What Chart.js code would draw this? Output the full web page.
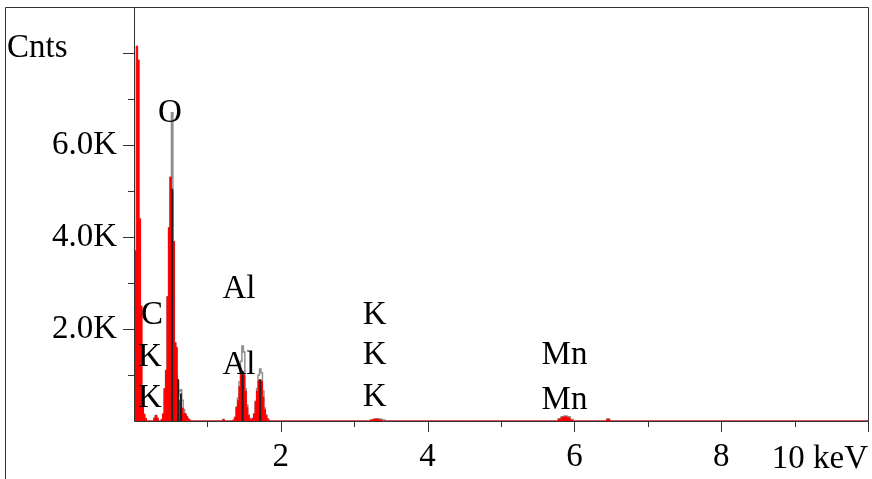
<!DOCTYPE html>
<html><head><meta charset="utf-8">
<script src="https://cdn.jsdelivr.net/npm/chart.js@4"></script>
<style>html,body{margin:0;padding:0;background:#fff}#wrap{width:872px;height:479px;position:relative}</style>
</head><body><div id="wrap"><canvas id="c"></canvas></div>
<script>
// Spectrum channels (keV) and counts
const energyKeV = [0.00,0.02,0.04,0.06,0.08,0.10,0.12,0.14,0.16,0.18,
  0.26,0.28,0.30,0.32,0.34,
  0.36,0.38,0.40,0.42,0.44,0.46,0.48,0.50,0.52,0.54,0.56,0.58,0.60,0.62,0.64,0.66,0.68,0.70,0.72,0.74,0.76,0.78,
  1.18,1.20,1.22,1.24,1.26,
  1.34,1.36,1.38,1.40,1.42,1.44,1.46,1.48,1.50,1.52,1.54,1.56,1.58,1.60,1.62,1.64,1.66,1.68,1.70,1.72,1.74,1.76,1.78,1.80,1.82,1.84,1.86,
  3.20,3.24,3.28,3.32,3.36,3.40,3.44,
  5.76,5.80,5.84,5.88,5.92,5.96,6.00,
  6.42,6.46,6.50,
  10.00];
const redCounts = [3700,3700,8150,7850,4400,2500,400,150,60,0,
  0,60,120,60,0,
  0,30,150,700,1100,2700,4200,5300,5000,3900,1700,1600,900,450,300,280,170,150,100,50,20,0,
  0,0,30,0,0,
  0,20,80,300,450,750,1080,1080,1000,650,300,120,40,20,50,150,420,650,880,900,860,520,250,120,40,10,0,
  0,20,40,40,20,0,0,
  0,40,80,90,70,20,0,
  0,40,0,
  0];
const grayCounts = [0,0,0,0,0,0,0,0,0,0,
  0,60,120,60,0,
  0,30,150,700,1100,2700,4200,5300,6700,3900,1700,1000,550,650,680,450,250,150,80,40,10,0,
  0,0,30,0,0,
  0,20,80,300,500,850,1300,1630,1500,700,350,130,50,30,60,160,430,700,1000,1130,1050,650,280,130,50,10,0,
  0,20,40,50,40,20,0,
  0,50,90,110,90,30,0,
  0,40,0,
  0];
// Black peak-marker lines
const markerKeV = [0.52, 0.60, 0.64, 1.48, 1.72];
const markerCounts = [5050, 900, 600, 1080, 900];
// Tick labels
const yTickValues = [1000,2000,3000,4000,5000,6000,7000,8000,9000];
const yTickLabels = {2000:'2.0K',4000:'4.0K',6000:'6.0K'};
const xTickValues = [1,2,3,4,5,6,7,8,9,10];
const xTickLabels = {2:'2',4:'4',6:'6',8:'8'};
// Element labels
const peakLabels = ['O','C','K','K','Al','Al','K','K','K','Mn','Mn'];
const peakLabelKeV = [0.49,0.245,0.218,0.218,1.43,1.43,3.28,3.28,3.28,5.865,5.865];
const peakLabelCounts = [6680,2304,1391,500,2870,1217,2304,1435,522,1435,457];

const FONT = "33px 'Liberation Serif', 'Times New Roman', serif";

const overlay = {
  id: 'overlay',
  afterDatasetsDraw(chart) {
    const {ctx, chartArea: a, scales: {x, y}} = chart;
    ctx.save();
    ctx.strokeStyle = '#333';
    ctx.lineWidth = 1;
    ctx.beginPath();
    // outer frame
    ctx.moveTo(5.5, 479); ctx.lineTo(5.5, 7.5); ctx.lineTo(a.right + 0.5, 7.5); ctx.lineTo(a.right + 0.5, a.bottom + 11);
    // axes
    ctx.moveTo(a.left + 0.5, 7); ctx.lineTo(a.left + 0.5, a.bottom + 0.5); ctx.lineTo(a.right + 1, a.bottom + 0.5);
    yTickValues.forEach(v => {
      const py = Math.round(y.getPixelForValue(v)) + 0.5;
      const len = v % 2000 === 0 ? 11 : 6;
      ctx.moveTo(a.left - len, py); ctx.lineTo(a.left, py);
    });
    xTickValues.forEach(v => {
      const px = Math.round(x.getPixelForValue(v)) + 0.5;
      const len = v % 2 === 0 ? 11 : 6;
      ctx.moveTo(px, a.bottom); ctx.lineTo(px, a.bottom + len);
    });
    ctx.stroke();
    ctx.fillStyle = '#000';
    ctx.font = FONT;
    ctx.textAlign = 'left'; ctx.textBaseline = 'alphabetic';
    ctx.fillText('Cnts', 7, 57);
    ctx.textAlign = 'right'; ctx.textBaseline = 'middle';
    ctx.fillText('10 keV', a.right, a.bottom + 38);
    ctx.textAlign = 'center';
    peakLabels.forEach((t, i) => {
      ctx.fillText(t, x.getPixelForValue(peakLabelKeV[i]), y.getPixelForValue(peakLabelCounts[i]));
    });
    ctx.restore();
  }
};

const pts = arr => energyKeV.map((e, i) => ({x: e, y: arr[i]}));
const markerPts = markerKeV.flatMap((e, i) => [{x: e, y: 0}, {x: e, y: markerCounts[i]}, {x: e, y: null}]);

const tickFont = {family: "'Liberation Serif', 'Times New Roman', serif", size: 33};
const noPad = s => { s.paddingTop = 0; s.paddingBottom = 0; s.paddingLeft = 0; s.paddingRight = 0; };
new Chart(document.getElementById('c'), {
  type: 'line',
  data: {
    datasets: [
      {data: pts(redCounts), borderColor: '#ff0000', backgroundColor: '#ff0000', fill: 'origin', stepped: 'middle', borderWidth: 1, pointRadius: 0, order: 2},
      {data: pts(grayCounts), borderColor: '#8f8f8f', fill: false, stepped: 'middle', borderWidth: 1.5, pointRadius: 0, order: 3},
      {data: markerPts, borderColor: '#222', fill: false, borderWidth: 2, pointRadius: 0, spanGaps: false, order: 1}
    ]
  },
  options: {
    responsive: true, maintainAspectRatio: false, animation: false,
    layout: {padding: {left: 0, right: 4, top: 7, bottom: 0}},
    plugins: {legend: {display: false}, tooltip: {enabled: false}},
    scales: {
      x: {type: 'linear', min: 0, max: 10,
        afterFit(s) { s.height = 58; noPad(s); },
        grid: {display: true, drawOnChartArea: false, drawTicks: true, tickLength: 11, color: 'rgba(0,0,0,0)'},
        border: {display: false},
        ticks: {stepSize: 1, autoSkip: false, maxRotation: 0, padding: 6, color: '#000', font: tickFont,
          callback: v => xTickLabels[v] ?? ''}
      },
      y: {min: 0, max: 9000,
        afterFit(s) { s.width = 134; noPad(s); },
        grid: {display: true, drawOnChartArea: false, drawTicks: true, tickLength: 11, color: 'rgba(0,0,0,0)'},
        border: {display: false},
        ticks: {stepSize: 1000, autoSkip: false, padding: 6, color: '#000', font: tickFont,
          callback: v => yTickLabels[v] ?? ''}
      }
    }
  },
  plugins: [overlay]
});
</script>
</body></html>
